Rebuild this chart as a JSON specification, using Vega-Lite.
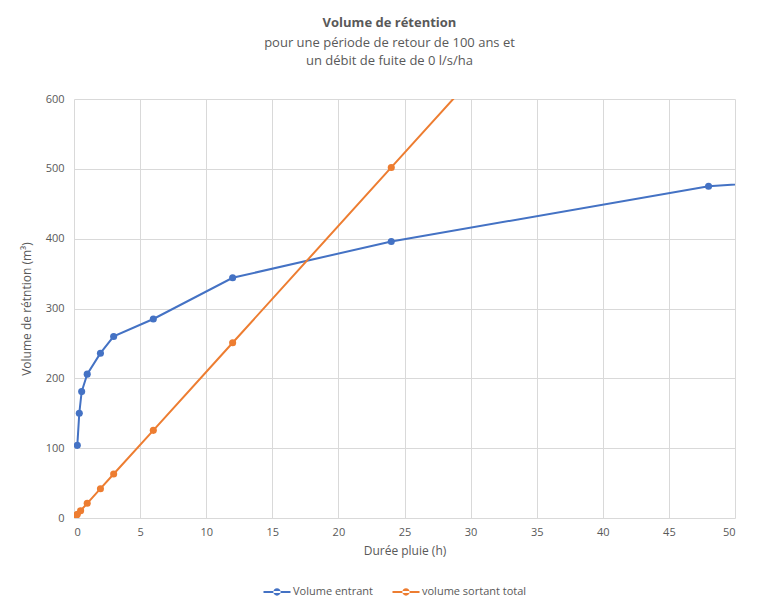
{
  "$schema": "https://vega.github.io/schema/vega-lite/v6.json",
  "width": 661,
  "height": 419,
  "autosize": {"type": "none"},
  "padding": {"left": 74, "top": 99, "right": 37, "bottom": 82},
  "background": "white",
  "title": {
    "text": "Volume de rétention",
    "subtitle": ["pour une période de retour de 100 ans et", "un débit de fuite de 0 l/s/ha"],
    "anchor": "middle",
    "frame": "group",
    "dx": -15,
    "offset": 25,
    "font": "Open Sans",
    "fontSize": 13,
    "fontWeight": "bold",
    "color": "#595959",
    "subtitleFont": "Open Sans",
    "subtitleFontSize": 13,
    "subtitleColor": "#595959",
    "subtitlePadding": 7,
    "subtitleLineHeight": 18
  },
  "data": {
    "values": [
      {"duree": 0.25, "volume": 104, "serie": "Volume entrant"},
      {"duree": 0.4, "volume": 150, "serie": "Volume entrant"},
      {"duree": 0.58, "volume": 181, "serie": "Volume entrant"},
      {"duree": 1, "volume": 206, "serie": "Volume entrant"},
      {"duree": 2, "volume": 236, "serie": "Volume entrant"},
      {"duree": 3, "volume": 260, "serie": "Volume entrant"},
      {"duree": 6, "volume": 285, "serie": "Volume entrant"},
      {"duree": 12, "volume": 344, "serie": "Volume entrant"},
      {"duree": 24, "volume": 396, "serie": "Volume entrant"},
      {"duree": 48, "volume": 475, "serie": "Volume entrant"},
      {"duree": 72, "volume": 505, "serie": "Volume entrant"},
      {"duree": 0.167, "volume": 3.5, "serie": "volume sortant total"},
      {"duree": 0.25, "volume": 5.2, "serie": "volume sortant total"},
      {"duree": 0.5, "volume": 10.5, "serie": "volume sortant total"},
      {"duree": 1, "volume": 21, "serie": "volume sortant total"},
      {"duree": 2, "volume": 42, "serie": "volume sortant total"},
      {"duree": 3, "volume": 63, "serie": "volume sortant total"},
      {"duree": 6, "volume": 125.5, "serie": "volume sortant total"},
      {"duree": 12, "volume": 251, "serie": "volume sortant total"},
      {"duree": 24, "volume": 502, "serie": "volume sortant total"},
      {"duree": 48, "volume": 1004, "serie": "volume sortant total"}
    ]
  },
  "mark": {"type": "line", "strokeWidth": 2, "clip": true, "point": {"size": 50, "filled": true, "opacity": 1}},
  "encoding": {
    "x": {
      "field": "duree", "type": "quantitative",
      "scale": {"domain": [0, 50], "nice": false, "zero": true},
      "axis": {"values": [0,5,10,15,20,25,30,35,40,45,50], "title": "Durée pluie (h)", "titlePadding": 8}
    },
    "y": {
      "field": "volume", "type": "quantitative",
      "scale": {"domain": [0, 600], "nice": false},
      "axis": {"values": [0,100,200,300,400,500,600], "title": "Volume de rétntion (m³)", "titlePadding": 12}
    },
    "color": {
      "field": "serie", "type": "nominal",
      "scale": {"domain": ["Volume entrant", "volume sortant total"], "range": ["#4472C4", "#ED7D31"]},
      "legend": {
        "title": null,
        "orient": "none",
        "direction": "horizontal",
        "legendX": 189,
        "legendY": 479,
        "symbolType": "M-1,-0.075 L1,-0.075 L1,0.075 L-1,0.075 Z M-0.27,0 A0.27,0.27 0 1,0 0.27,0 A0.27,0.27 0 1,0 -0.27,0 Z",
        "symbolSize": 730,
        "symbolStrokeWidth": 0,
        "columnPadding": 18,
        "labelOffset": 2,
        "encode": {"symbols": {"update": {"fill": {"signal": "scale('color', datum.value)"}, "strokeWidth": {"value": 0}}}}
      }
    }
  },
  "config": {
    "font": "Open Sans",
    "view": {"stroke": null},
    "axis": {
      "labelFont": "Open Sans",
      "labelFontSize": 11,
      "labelColor": "#595959",
      "titleFont": "Open Sans",
      "titleFontSize": 12,
      "titleFontWeight": "normal",
      "titleColor": "#595959",
      "gridColor": "#d9d9d9",
      "gridWidth": 1,
      "domain": false,
      "ticks": false,
      "labelPadding": 8
    },
    "axisY": {"labelPadding": 10},
    "legend": {"labelFont": "Open Sans", "labelFontSize": 11, "labelColor": "#595959"}
  }
}
